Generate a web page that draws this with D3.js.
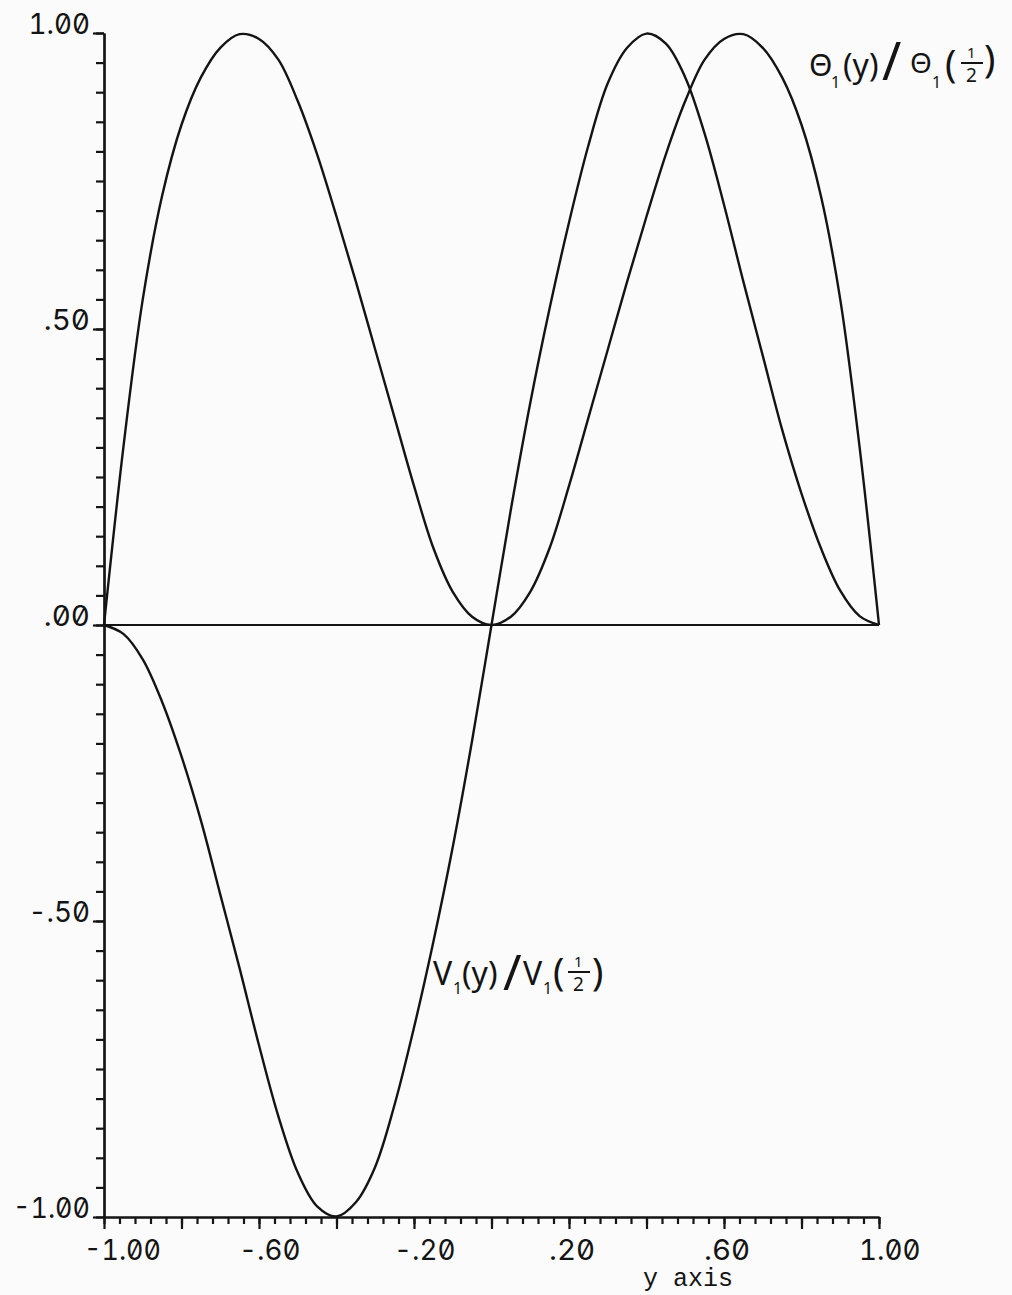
<!DOCTYPE html>
<html>
<head>
<meta charset="utf-8">
<script src="https://cdn.jsdelivr.net/npm/d3@7"></script>
<style>
  html, body { margin: 0; padding: 0; background: #fbfbfb; }
  svg { display: block; }
  .num { font-feature-settings: "zero" 1, "tnum" 1; }
</style>
</head>
<body>
<svg id="chart" width="1012" height="1295"></svg>
<script>
// Sample positions across the slot, -1 <= y <= 1
const yPositions = [
  -1.00, -0.95, -0.90, -0.85, -0.80, -0.75, -0.70, -0.65, -0.60, -0.55,
  -0.50, -0.45, -0.40, -0.35, -0.30, -0.25, -0.20, -0.15, -0.10, -0.05,
   0.00,
   0.05,  0.10,  0.15,  0.20,  0.25,  0.30,  0.35,  0.40,  0.45,  0.50,
   0.55,  0.60,  0.65,  0.70,  0.75,  0.80,  0.85,  0.90,  0.95,  1.00
];

// Theta_1(y) / Theta_1(1/2)
const thetaValues = [
  0.000, 0.300, 0.550, 0.725, 0.845, 0.925, 0.975, 0.998, 0.990, 0.955,
  0.885, 0.795, 0.690, 0.580, 0.465, 0.350, 0.235, 0.130, 0.056, 0.014,
  0.000,
  0.014, 0.056, 0.130, 0.235, 0.350, 0.465, 0.580, 0.690, 0.795, 0.885,
  0.955, 0.990, 0.998, 0.975, 0.925, 0.845, 0.725, 0.550, 0.300, 0.000
];

// V_1(y) / V_1(1/2)
const vValues = [
   0.000, -0.015, -0.058, -0.130, -0.222, -0.330, -0.455, -0.580, -0.710, -0.830,
  -0.925, -0.982, -0.999, -0.975, -0.915, -0.810, -0.680, -0.535, -0.375, -0.195,
   0.000,
   0.195,  0.375,  0.535,  0.680,  0.810,  0.915,  0.975,  0.999,  0.982,  0.925,
   0.830,  0.710,  0.580,  0.455,  0.330,  0.222,  0.130,  0.058,  0.015,  0.000
];

// Axis tick labels
const xTickValues = [-1.0, -0.6, -0.2, 0.2, 0.6, 1.0];
const xTickLabels = ["-1.00", "-.60", "-.20", ".20", ".60", "1.00"];
const yTickValues = [1.0, 0.5, 0.0, -0.5, -1.0];
const yTickLabels = ["1.00", ".50", ".00", "-.50", "-1.00"];
const xAxisTitle = "y axis";

const svg = d3.select("#chart");
const ink = "#141414";

const x = d3.scaleLinear().domain([-1, 1]).range([104, 879]);
const y = d3.scaleLinear().domain([-1, 1]).range([1217, 33]);

// ---- vertical axis: minor ticks every .05, labelled ones slightly longer
const yMinor = d3.range(-20, 21).map(i => i / 20);
const gy = svg.append("g").attr("transform", `translate(${x(-1)},0)`);
gy.call(d3.axisLeft(y).tickValues(yMinor).tickSize(8).tickSizeOuter(0).tickFormat(""));
gy.append("g").call(d3.axisLeft(y).tickValues(yTickValues).tickSize(11).tickSizeOuter(0).tickFormat(""));

// ---- horizontal axis: ticks every .04, longer every .2
const xMinor = d3.range(-25, 26).map(i => i * 0.04);
const xMid = d3.range(-5, 6).map(i => i * 0.2);
const gx = svg.append("g").attr("transform", `translate(0,${y(-1)})`);
gx.call(d3.axisBottom(x).tickValues(xMinor).tickSize(7).tickSizeOuter(0).tickFormat(""));
gx.append("g").call(d3.axisBottom(x).tickValues(xMid).tickSize(12).tickSizeOuter(0).tickFormat(""));

svg.selectAll(".domain, .tick line")
  .attr("stroke", ink)
  .attr("stroke-width", 2.2);

// ---- tick labels in a narrow plotter-style face with slashed zeros
const labelFont = "Inter, 'DejaVu Sans', sans-serif";
svg.append("g").selectAll("text")
  .data(yTickValues)
  .join("text")
  .attr("class", "num")
  .attr("x", 90)
  .attr("y", d => y(d) + 1)
  .attr("text-anchor", "end")
  .attr("font-family", labelFont)
  .attr("font-size", 29)
  .attr("fill", ink)
  .attr("textLength", (d, i) => yTickLabels[i].length * 15.4)
  .attr("lengthAdjust", "spacingAndGlyphs")
  .text((d, i) => yTickLabels[i]);

svg.append("g").selectAll("text")
  .data(xTickValues)
  .join("text")
  .attr("class", "num")
  .attr("x", d => x(d) - 20)
  .attr("y", y(-1) + 43)
  .attr("text-anchor", "start")
  .attr("font-family", labelFont)
  .attr("font-size", 29)
  .attr("fill", ink)
  .attr("textLength", (d, i) => xTickLabels[i].length * 15.4)
  .attr("lengthAdjust", "spacingAndGlyphs")
  .text((d, i) => xTickLabels[i]);

svg.append("text")
  .attr("x", 643)
  .attr("y", 1286)
  .attr("font-family", "'Liberation Mono', 'Courier New', monospace")
  .attr("font-size", 25)
  .attr("fill", ink)
  .text(xAxisTitle);

// ---- zero line across the slot
svg.append("line")
  .attr("x1", x(-1)).attr("x2", x(1))
  .attr("y1", y(0)).attr("y2", y(0))
  .attr("stroke", ink)
  .attr("stroke-width", 2.2);

// ---- profiles
const line = d3.line()
  .x(d => x(d[0]))
  .y(d => y(d[1]))
  .curve(d3.curveCatmullRom.alpha(0.5));

const series = [
  yPositions.map((p, i) => [p, thetaValues[i]]),
  yPositions.map((p, i) => [p, vValues[i]])
];

svg.append("g").selectAll("path")
  .data(series)
  .join("path")
  .attr("d", line)
  .attr("fill", "none")
  .attr("stroke", ink)
  .attr("stroke-width", 2.4)
  .attr("stroke-linejoin", "round");

// ---- hand-lettered curve names
const hand = "'Noto Sans', 'DejaVu Sans', sans-serif";
function piece(g, str, px, py, size) {
  g.append("text")
    .attr("x", px).attr("y", py)
    .attr("font-family", hand)
    .attr("font-size", size)
    .attr("fill", ink)
    .text(str);
}
function fraction(g, px, py) {
  piece(g, "1", px + 6, py - 5, 15);
  g.append("line")
    .attr("x1", px).attr("x2", px + 22)
    .attr("y1", py).attr("y2", py)
    .attr("stroke", ink).attr("stroke-width", 2);
  piece(g, "2", px + 5, py + 19, 19);
}

const thetaLabel = svg.append("g");
piece(thetaLabel, "Θ", 809, 76, 30);
piece(thetaLabel, "1", 831, 88, 16);
piece(thetaLabel, "(y)", 843, 77, 32);
piece(thetaLabel, "/", 882, 80, 52);
piece(thetaLabel, "Θ", 910, 73, 28);
piece(thetaLabel, "1", 932, 88, 16);
piece(thetaLabel, "(", 945, 77, 38);
fraction(thetaLabel, 961, 63);
piece(thetaLabel, ")", 984, 72, 38);

const vLabel = svg.append("g");
piece(vLabel, "V", 433, 985, 32);
piece(vLabel, "1", 453, 994, 16);
piece(vLabel, "(y)", 462, 985, 32);
piece(vLabel, "/", 503, 990, 50);
piece(vLabel, "V", 523, 985, 32);
piece(vLabel, "1", 543, 994, 16);
piece(vLabel, "(", 553, 985, 38);
fraction(vLabel, 568, 972);
piece(vLabel, ")", 592, 985, 38);
</script>
</body>
</html>
